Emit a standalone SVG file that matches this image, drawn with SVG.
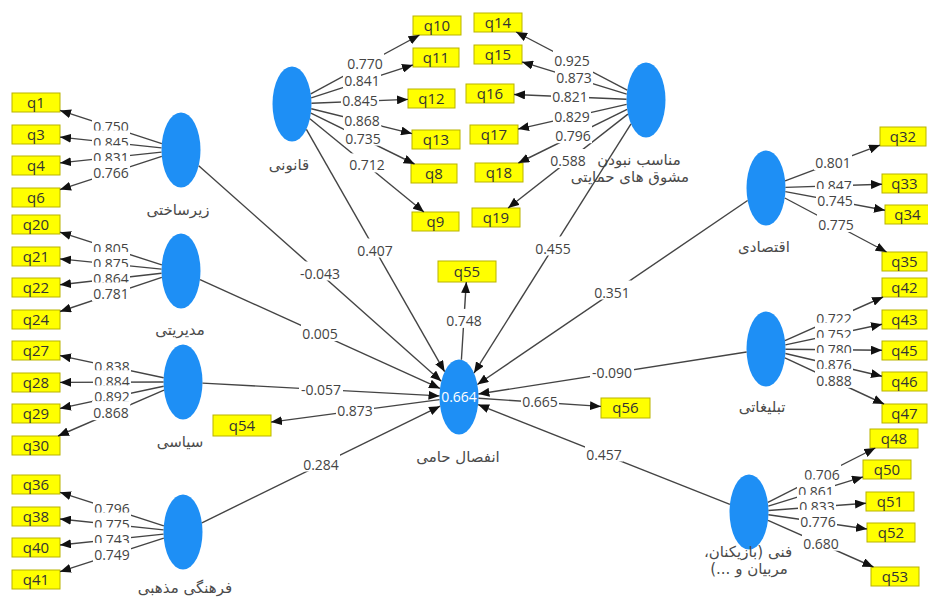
<svg xmlns="http://www.w3.org/2000/svg" width="928" height="598" viewBox="0 0 928 598">
<defs>
<marker id="ah" viewBox="0 0 11 9" refX="11" refY="4.5" markerWidth="11" markerHeight="9" markerUnits="userSpaceOnUse" orient="auto"><path d="M0,0L11,4.5L0,9z" fill="#111"/></marker>
<style>
.lv{fill:#1e8ff5;stroke:none}
.nl{font-family:"DejaVu Sans",sans-serif;font-size:15px;fill:#4a4a4a;text-anchor:middle}
.bx rect{fill:#ffff00;stroke:#b9b300;stroke-width:1}
.bx text{font-family:"Open Sans","Liberation Sans",sans-serif;font-size:15px;fill:#333;text-anchor:middle}
.cn line{stroke:#444;stroke-width:1.4;marker-end:url(#ah)}
.lb rect{fill:#fff}
.lb text{font-family:"Open Sans","Liberation Sans",sans-serif;font-size:14px;fill:#444;text-anchor:middle}
.r2{font-family:"Open Sans","Liberation Sans",sans-serif;font-size:14px;fill:#fff;text-anchor:middle}
</style>
</defs>
<rect width="928" height="598" fill="#fff"/>

<!-- latent nodes -->
<g id="n-zirsakhti"><ellipse class="lv" cx="181" cy="150" rx="19.5" ry="37.5"/><text class="nl" x="178" y="215">زیرساختی</text></g>
<g id="n-modiriati"><ellipse class="lv" cx="181" cy="271" rx="19.5" ry="37.5"/><text class="nl" x="180" y="335">مدیریتی</text></g>
<g id="n-siasi"><ellipse class="lv" cx="183" cy="382" rx="19.5" ry="37.5"/><text class="nl" x="180" y="447">سیاسی</text></g>
<g id="n-farhangi"><ellipse class="lv" cx="183" cy="532" rx="19.5" ry="37.5"/><text class="nl" x="185" y="593">فرهنگی مذهبی</text></g>
<g id="n-ghanuni"><ellipse class="lv" cx="292" cy="104" rx="19.5" ry="37.5"/><text class="nl" x="289" y="170">قانونی</text></g>
<g id="n-monaseb"><ellipse class="lv" cx="646" cy="100" rx="19.5" ry="37.5"/><text class="nl" x="639" y="165">مناسب نبودن</text><text class="nl" x="630" y="182">مشوق های حمایتی</text></g>
<g id="n-eghtesadi"><ellipse class="lv" cx="766" cy="188" rx="19.5" ry="37.5"/><text class="nl" x="764" y="252">اقتصادی</text></g>
<g id="n-tablighati"><ellipse class="lv" cx="766" cy="349" rx="19.5" ry="37.5"/><text class="nl" x="762" y="412">تبلیغاتی</text></g>
<g id="n-fanni"><ellipse class="lv" cx="749" cy="512" rx="19.5" ry="37.5"/><text class="nl" x="748" y="557" direction="rtl">فنی (بازیکنان،</text><text class="nl" x="749" y="574" direction="rtl">مربیان و ...)</text></g>
<g id="n-enfesal"><ellipse class="lv" cx="459" cy="397" rx="19.5" ry="37.5"/><text class="r2" x="459" y="402">0.664</text><text class="nl" x="458" y="462">انفصال حامی</text></g>

<!-- indicator boxes -->
<g id="q1" class="bx"><rect x="12" y="93" width="48" height="19"/><text x="36" y="108">q1</text></g>
<g id="q3" class="bx"><rect x="12" y="125" width="48" height="19"/><text x="36" y="140">q3</text></g>
<g id="q4" class="bx"><rect x="12" y="156" width="48" height="19"/><text x="36" y="171">q4</text></g>
<g id="q6" class="bx"><rect x="12" y="188" width="48" height="19"/><text x="36" y="203">q6</text></g>
<g id="q20" class="bx"><rect x="12" y="215" width="48" height="19"/><text x="36" y="230">q20</text></g>
<g id="q21" class="bx"><rect x="12" y="247" width="48" height="19"/><text x="36" y="262">q21</text></g>
<g id="q22" class="bx"><rect x="12" y="278" width="48" height="19"/><text x="36" y="293">q22</text></g>
<g id="q24" class="bx"><rect x="12" y="310" width="48" height="19"/><text x="36" y="325">q24</text></g>
<g id="q27" class="bx"><rect x="12" y="341" width="48" height="19"/><text x="36" y="356">q27</text></g>
<g id="q28" class="bx"><rect x="12" y="373" width="48" height="19"/><text x="36" y="388">q28</text></g>
<g id="q29" class="bx"><rect x="12" y="404" width="48" height="19"/><text x="36" y="419">q29</text></g>
<g id="q30" class="bx"><rect x="12" y="436" width="48" height="19"/><text x="36" y="451">q30</text></g>
<g id="q36" class="bx"><rect x="12" y="475" width="48" height="19"/><text x="36" y="490">q36</text></g>
<g id="q38" class="bx"><rect x="12" y="507" width="48" height="19"/><text x="36" y="522">q38</text></g>
<g id="q40" class="bx"><rect x="12" y="538" width="48" height="19"/><text x="36" y="553">q40</text></g>
<g id="q41" class="bx"><rect x="12" y="570" width="48" height="19"/><text x="36" y="585">q41</text></g>

<g id="q10" class="bx"><rect x="413" y="16" width="48" height="19"/><text x="437" y="31">q10</text></g>
<g id="q11" class="bx"><rect x="413" y="48" width="46" height="19"/><text x="436" y="63">q11</text></g>
<g id="q12" class="bx"><rect x="408" y="89" width="47" height="19"/><text x="431.5" y="104">q12</text></g>
<g id="q13" class="bx"><rect x="412" y="130" width="48" height="19"/><text x="436" y="145">q13</text></g>
<g id="q8" class="bx"><rect x="411" y="164" width="46" height="19"/><text x="434" y="179">q8</text></g>
<g id="q9" class="bx"><rect x="412" y="212" width="47" height="19"/><text x="435.5" y="227">q9</text></g>

<g id="q14" class="bx"><rect x="474" y="13" width="48" height="19"/><text x="498" y="28">q14</text></g>
<g id="q15" class="bx"><rect x="474" y="45" width="48" height="19"/><text x="498" y="60">q15</text></g>
<g id="q16" class="bx"><rect x="466" y="84" width="48" height="19"/><text x="490" y="99">q16</text></g>
<g id="q17" class="bx"><rect x="470" y="125" width="48" height="19"/><text x="494" y="140">q17</text></g>
<g id="q18" class="bx"><rect x="475" y="163" width="48" height="19"/><text x="499" y="178">q18</text></g>
<g id="q19" class="bx"><rect x="472" y="208" width="48" height="19"/><text x="496" y="223">q19</text></g>

<g id="q55" class="bx"><rect x="438" y="261" width="58" height="21"/><text x="467" y="277">q55</text></g>
<g id="q54" class="bx"><rect x="213" y="415" width="58" height="21"/><text x="242" y="431">q54</text></g>
<g id="q56" class="bx"><rect x="601" y="398" width="49" height="20"/><text x="625.5" y="413">q56</text></g>

<g id="q32" class="bx"><rect x="880" y="127" width="46" height="19"/><text x="903" y="142">q32</text></g>
<g id="q33" class="bx"><rect x="882" y="174" width="45" height="19"/><text x="904.5" y="189">q33</text></g>
<g id="q34" class="bx"><rect x="885" y="205" width="45" height="19"/><text x="907.5" y="220">q34</text></g>
<g id="q35" class="bx"><rect x="882" y="252" width="45" height="19"/><text x="904.5" y="267">q35</text></g>
<g id="q42" class="bx"><rect x="882" y="278" width="45" height="19"/><text x="904.5" y="293">q42</text></g>
<g id="q43" class="bx"><rect x="882" y="310" width="45" height="19"/><text x="904.5" y="325">q43</text></g>
<g id="q45" class="bx"><rect x="882" y="341" width="45" height="19"/><text x="904.5" y="356">q45</text></g>
<g id="q46" class="bx"><rect x="882" y="372" width="45" height="19"/><text x="904.5" y="387">q46</text></g>
<g id="q47" class="bx"><rect x="882" y="404" width="45" height="19"/><text x="904.5" y="419">q47</text></g>
<g id="q48" class="bx"><rect x="870" y="429" width="48" height="19"/><text x="894" y="444">q48</text></g>
<g id="q50" class="bx"><rect x="863" y="460" width="48" height="19"/><text x="887" y="475">q50</text></g>
<g id="q51" class="bx"><rect x="866" y="492" width="48" height="19"/><text x="890" y="507">q51</text></g>
<g id="q52" class="bx"><rect x="867" y="523" width="48" height="19"/><text x="891" y="538">q52</text></g>
<g id="q53" class="bx"><rect x="871" y="567" width="48" height="19"/><text x="895" y="582">q53</text></g>

<!-- connectors -->
<g id="connectors" class="cn">
<line x1="161.8" y1="143.7" x2="60" y2="110.4"/>
<line x1="161.5" y1="147.9" x2="60" y2="137.1"/>
<line x1="161.5" y1="152.1" x2="60" y2="162.9"/>
<line x1="161.8" y1="156.3" x2="60" y2="189.6"/>
<line x1="161.8" y1="264.8" x2="60" y2="232.2"/>
<line x1="161.5" y1="269.1" x2="60" y2="258.9"/>
<line x1="161.5" y1="273.2" x2="60" y2="284.8"/>
<line x1="161.8" y1="277.4" x2="60" y2="311.5"/>
<line x1="163.6" y1="377.8" x2="60" y2="355.6"/>
<line x1="163.5" y1="382" x2="60" y2="382.4"/>
<line x1="163.6" y1="386.2" x2="60" y2="408.4"/>
<line x1="164" y1="390.2" x2="58" y2="436"/>
<line x1="163.8" y1="525.8" x2="60" y2="492.3"/>
<line x1="163.5" y1="529.9" x2="60" y2="519"/>
<line x1="163.5" y1="534.1" x2="60" y2="545"/>
<line x1="163.8" y1="538.2" x2="60" y2="571.7"/>

<line x1="310.8" y1="93.8" x2="419.5" y2="35"/>
<line x1="311.2" y1="97.8" x2="413" y2="64.9"/>
<line x1="311.5" y1="103.2" x2="408" y2="99.4"/>
<line x1="311.3" y1="108.8" x2="412" y2="133.6"/>
<line x1="310.9" y1="113.2" x2="414.6" y2="164"/>
<line x1="309.9" y1="118.7" x2="423.9" y2="212"/>

<line x1="627.2" y1="90.1" x2="516.1" y2="32"/>
<line x1="626.7" y1="94.1" x2="522" y2="61.9"/>
<line x1="626.5" y1="99.2" x2="514" y2="94.5"/>
<line x1="626.6" y1="104.4" x2="518" y2="129.1"/>
<line x1="627.1" y1="109.3" x2="518.3" y2="163"/>
<line x1="627.9" y1="114.1" x2="508.1" y2="208"/>

<line x1="785.1" y1="180.8" x2="880" y2="145.1"/>
<line x1="785.5" y1="187.4" x2="882" y2="184.2"/>
<line x1="785.4" y1="191.6" x2="885" y2="210.3"/>
<line x1="784.8" y1="198" x2="886.6" y2="252"/>

<line x1="785" y1="340.6" x2="883.1" y2="297"/>
<line x1="785.4" y1="344.9" x2="882" y2="324.3"/>
<line x1="785.5" y1="349.2" x2="882" y2="350.3"/>
<line x1="785.4" y1="353.5" x2="882" y2="376.2"/>
<line x1="784.9" y1="357.8" x2="884.1" y2="404"/>

<line x1="767.9" y1="502.4" x2="875.3" y2="448"/>
<line x1="768.3" y1="506.1" x2="863" y2="476.9"/>
<line x1="768.5" y1="510.5" x2="866" y2="503.3"/>
<line x1="768.4" y1="514.8" x2="867" y2="529"/>
<line x1="768" y1="520.4" x2="873.5" y2="567"/>

<line x1="461.4" y1="359.8" x2="466.3" y2="282"/>
<line x1="439.5" y1="399.6" x2="271" y2="422.1"/>
<line x1="478.5" y1="398.3" x2="601" y2="406.4"/>

<line x1="198.7" y1="165.7" x2="441.3" y2="381.3"/>
<line x1="200" y1="279.6" x2="440" y2="388.4"/>
<line x1="202.5" y1="383.1" x2="439.5" y2="395.9"/>
<line x1="201.9" y1="522.8" x2="440.1" y2="406.2"/>
<line x1="306.4" y1="129.3" x2="444.6" y2="371.7"/>
<line x1="631" y1="123.9" x2="474" y2="373.1"/>
<line x1="747.6" y1="200.5" x2="477.4" y2="384.5"/>
<line x1="746.6" y1="352" x2="478.4" y2="394"/>
<line x1="729.9" y1="504.4" x2="478.1" y2="404.6"/>
</g>

<!-- connector labels -->
<g id="labels" class="lb">
<rect x="92" y="115" width="38" height="19"/><text x="111" y="132">0.750</text>
<rect x="92" y="130.5" width="38" height="19"/><text x="111" y="147.5">0.845</text>
<rect x="92" y="145.5" width="38" height="19"/><text x="111" y="162.5">0.831</text>
<rect x="92" y="161" width="38" height="19"/><text x="111" y="178">0.766</text>

<rect x="92" y="236.5" width="38" height="19"/><text x="111" y="253.5">0.805</text>
<rect x="92" y="252" width="38" height="19"/><text x="111" y="269">0.875</text>
<rect x="92" y="267" width="38" height="19"/><text x="111" y="284">0.864</text>
<rect x="92" y="282.4" width="38" height="19"/><text x="111" y="299.4">0.781</text>

<rect x="93" y="354.7" width="38" height="19"/><text x="112" y="371.7">0.838</text>
<rect x="93" y="370.2" width="38" height="19"/><text x="112" y="387.2">0.884</text>
<rect x="93" y="385.3" width="38" height="19"/><text x="112" y="402.3">0.892</text>
<rect x="92" y="401.1" width="38" height="19"/><text x="111" y="418.1">0.868</text>

<rect x="93" y="497" width="38" height="19"/><text x="112" y="514">0.796</text>
<rect x="93" y="512.5" width="38" height="19"/><text x="112" y="529.5">0.775</text>
<rect x="93" y="527.5" width="38" height="19"/><text x="112" y="544.5">0.743</text>
<rect x="93" y="543" width="38" height="19"/><text x="112" y="560">0.749</text>

<rect x="346" y="52.4" width="38" height="19"/><text x="365" y="69.4">0.770</text>
<rect x="343" y="69.4" width="38" height="19"/><text x="362" y="86.4">0.841</text>
<rect x="341" y="89.3" width="38" height="19"/><text x="360" y="106.3">0.845</text>
<rect x="343" y="109.2" width="38" height="19"/><text x="362" y="126.2">0.868</text>
<rect x="344" y="126.6" width="38" height="19"/><text x="363" y="143.6">0.735</text>
<rect x="348" y="153.4" width="38" height="19"/><text x="367" y="170.4">0.712</text>

<rect x="553" y="49" width="38" height="19"/><text x="572" y="66">0.925</text>
<rect x="555" y="66" width="38" height="19"/><text x="574" y="83">0.873</text>
<rect x="551" y="84.9" width="38" height="19"/><text x="570" y="101.9">0.821</text>
<rect x="553" y="104.7" width="38" height="19"/><text x="572" y="121.7">0.829</text>
<rect x="554" y="124.2" width="38" height="19"/><text x="573" y="141.2">0.796</text>
<rect x="549" y="149" width="38" height="19"/><text x="568" y="166">0.588</text>

<rect x="814" y="151" width="38" height="19"/><text x="833" y="168">0.801</text>
<rect x="815" y="173.8" width="38" height="19"/><text x="834" y="190.8">0.847</text>
<rect x="816" y="189" width="38" height="19"/><text x="835" y="206">0.745</text>
<rect x="817" y="213" width="38" height="19"/><text x="836" y="230">0.775</text>

<rect x="815" y="306.8" width="38" height="19"/><text x="834" y="323.8">0.722</text>
<rect x="815" y="322.6" width="38" height="19"/><text x="834" y="339.6">0.752</text>
<rect x="815" y="337.8" width="38" height="19"/><text x="834" y="354.8">0.780</text>
<rect x="815" y="352.9" width="38" height="19"/><text x="834" y="369.9">0.876</text>
<rect x="815" y="368.9" width="38" height="19"/><text x="834" y="385.9">0.888</text>

<rect x="803" y="463.2" width="38" height="19"/><text x="822" y="480.2">0.706</text>
<rect x="797" y="479.5" width="38" height="19"/><text x="816" y="496.5">0.861</text>
<rect x="798" y="494.9" width="38" height="19"/><text x="817" y="511.9">0.833</text>
<rect x="799" y="509.9" width="38" height="19"/><text x="818" y="526.9">0.776</text>
<rect x="802" y="531.7" width="38" height="19"/><text x="821" y="548.7">0.680</text>

<rect x="445" y="308.9" width="38" height="19"/><text x="464" y="325.9">0.748</text>
<rect x="336" y="398.9" width="38" height="19"/><text x="355" y="415.9">0.873</text>
<rect x="521" y="390.3" width="38" height="19"/><text x="540" y="407.3">0.665</text>

<rect x="298" y="261.5" width="44" height="19"/><text x="320" y="278.5">-0.043</text>
<rect x="301" y="322" width="38" height="19"/><text x="320" y="339">0.005</text>
<rect x="299" y="377.5" width="44" height="19"/><text x="321" y="394.5">-0.057</text>
<rect x="302" y="452.5" width="38" height="19"/><text x="321" y="469.5">0.284</text>
<rect x="356" y="238.5" width="38" height="19"/><text x="375" y="255.5">0.407</text>
<rect x="534" y="236.5" width="38" height="19"/><text x="553" y="253.5">0.455</text>
<rect x="593" y="280.5" width="38" height="19"/><text x="612" y="297.5">0.351</text>
<rect x="590" y="361" width="44" height="19"/><text x="612" y="378">-0.090</text>
<rect x="585" y="442.5" width="38" height="19"/><text x="604" y="459.5">0.457</text>
</g>
</svg>
